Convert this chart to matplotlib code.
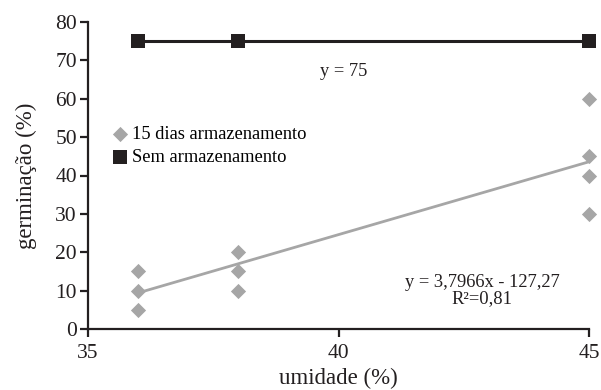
import matplotlib
matplotlib.use("Agg")
import matplotlib.pyplot as plt
import numpy as np

plt.rcParams['font.family'] = ['Liberation Serif', 'DejaVu Serif']

# data
x_stored = [36, 36, 36, 38, 38, 38, 45, 45, 45, 45]
y_stored = [15, 10, 5, 20, 15, 10, 60, 45, 40, 30]
x_fresh = [36, 38, 45]
y_fresh = [75, 75, 75]
slope, intercept = 3.7966, -127.27
fit_x = [36, 45]

fig = plt.figure(figsize=(6.01, 3.9), dpi=100)
ax = fig.add_axes([88/601, 61/390, 501/601, 307/390])

fx = np.array(fit_x)
ax.plot(fx, slope*fx + intercept, color='#a6a6a6', lw=2, zorder=2)
ax.plot(x_fresh, y_fresh, color='#231f20', lw=2.2, zorder=3)
ax.scatter(x_stored, y_stored, marker='D', s=60, color='#a6a6a6', zorder=4,
           label='15 dias armazenamento', linewidths=0)
ax.scatter(x_fresh, y_fresh, marker='s', s=100, color='#231f20', zorder=5,
           label='Sem armazenamento', linewidths=0)

ax.set_xlim(35, 45)
ax.set_ylim(0, 80)
ax.set_xticks([35, 40, 45])
ax.set_yticks(range(0, 81, 10))
for s in ['top', 'right']:
    ax.spines[s].set_visible(False)
for s in ['left', 'bottom']:
    ax.spines[s].set_linewidth(1.6)
    ax.spines[s].set_color('#231f20')
ax.tick_params(direction='out', length=6, width=1.6, color='#231f20',
               labelsize=15.5, labelcolor='#231f20')
ax.tick_params(axis='x', pad=5)
ax.tick_params(axis='y', pad=2)
ax.set_xlabel('umidade (%)', fontsize=16.5, color='#231f20', labelpad=3)
ax.set_ylabel('germinação (%)', fontsize=16.5, color='#231f20', labelpad=13)

ax.text(40.1, 67.2, 'y = 75', fontsize=13.3, ha='center', va='center', color='#231f20')
ax.text(42.87, 12.1, 'y = 3,7966x - 127,27', fontsize=13.3, ha='center', va='center', color='#231f20')
ax.text(42.87, 7.8, 'R²=0,81', fontsize=13.3, ha='center', va='center', color='#231f20')

ax.legend(loc='upper left', bbox_to_anchor=(0.03, 0.685), frameon=False, fontsize=13.3,
          handletextpad=0.15, labelspacing=0.33, borderaxespad=0, handlelength=1.0,
          scatterpoints=1)
for c in ax.collections:
    c.set_clip_on(False)

fig.savefig('out.png', dpi=100)
